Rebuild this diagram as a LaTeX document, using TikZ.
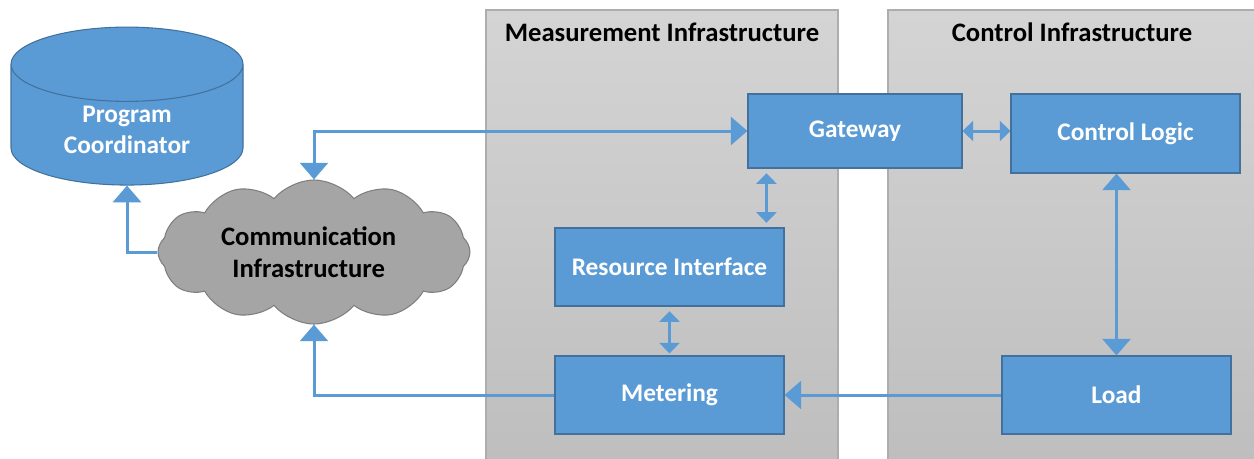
\documentclass[tikz,border=0pt]{standalone}
\usepackage{fontspec}
\setmainfont{Carlito}
\usetikzlibrary{positioning,arrows.meta,shapes.geometric,shapes.symbols}
\definecolor{boxblue}{HTML}{5B9BD5}
\definecolor{boxline}{HTML}{41719C}
\definecolor{cloudgray}{HTML}{A5A5A5}
\definecolor{cloudline}{HTML}{7F7F7F}
\definecolor{paneltop}{HTML}{D4D4D4}
\definecolor{panelbot}{HTML}{BEBEBE}
\definecolor{panelline}{HTML}{ADADAD}
\tikzset{
  block/.style = {draw=boxline, fill=boxblue, text=white, line width=0.8pt,
    font=\bfseries\fontsize{19}{23}\selectfont, align=center},
  panel/.style = {top color=paneltop, bottom color=panelbot, draw=panelline, line width=0.8pt},
  title/.style = {font=\bfseries\fontsize{20}{24}\selectfont, text=black},
  link/.style = {draw=boxblue, line width=2.25pt},
  bigtip/.style = {-{Triangle[width=21pt,length=12.5pt]}},
  bigboth/.style = {{Triangle[width=21pt,length=12.5pt]}-{Triangle[width=21pt,length=12.5pt]}},
  smallboth/.style = {{Triangle[width=15pt,length=8pt]}-{Triangle[width=15pt,length=8pt]}}
}
\begin{document}
\begin{tikzpicture}[x=0.75pt, y=-0.75pt]
    \useasboundingbox (0, 0) rectangle (1254, 458);
    % panels
    \shade [panel] (486, 10) rectangle (838, 462);
    \shade [panel] (888, 10) rectangle (1258, 462);
    \node [title] (mtitle) at (662, 32) {Measurement Infrastructure};
    \node [title] (ctitle) at (1072, 32) {Control Infrastructure};
    % blocks
    \node [block, minimum width=160.5pt, minimum height=55.5pt] (gw) at (855, 131) {Gateway};
    \node [block, minimum width=171.75pt, minimum height=59.25pt] (cl) at (1125.5, 133.5) {Control Logic};
    \node [block, minimum width=171.75pt, minimum height=58.5pt] (ri) at (669.5, 267) {Resource Interface};
    \node [block, minimum width=171.75pt, minimum height=58.5pt] (mt) at (669.5, 395) {Metering};
    \node [block, minimum width=171.75pt, minimum height=58.5pt] (ld) at (1116.5, 395) {Load};
    \node [block, cylinder, shape border rotate=90, aspect=0.55,
           minimum width=174pt, minimum height=110pt] (pc) at (127, 130) {Program\\Coordinator};
    \node [cloud, cloud puffs=12, cloud puff arc=100, aspect=2.4, draw=cloudline, fill=cloudgray,
           line width=0.8pt, minimum width=234pt, minimum height=98pt, align=center,
           font=\bfseries\fontsize{20}{24}\selectfont] (cm) at (314, 252) {Communication\hspace*{8pt}\\Infrastructure\hspace*{8pt}};
    % connectors
    \draw [link, bigtip] (cm.west) -| (pc.south);
    \draw [link, bigboth] (gw.west) -| (cm.north);
    \draw [link, bigtip] (mt.west) -| (cm.south);
    \draw [link, bigtip] (ld.west) -- (mt.east);
    \draw [link, smallboth] (gw.east) -- (cl.west |- gw.east);
    \draw [link, smallboth, shorten <=3.5pt, shorten >=3.5pt]
        ([xshift=14.25pt]gw.south west) -- ([xshift=14.25pt]gw.south west |- ri.north);
    \draw [link, smallboth, shorten <=3.5pt, shorten >=1.5pt] (ri.south) -- (mt.north);
    \draw [link, bigboth] (ld.north) -- (ld.north |- cl.south);
\end{tikzpicture}
\end{document}
